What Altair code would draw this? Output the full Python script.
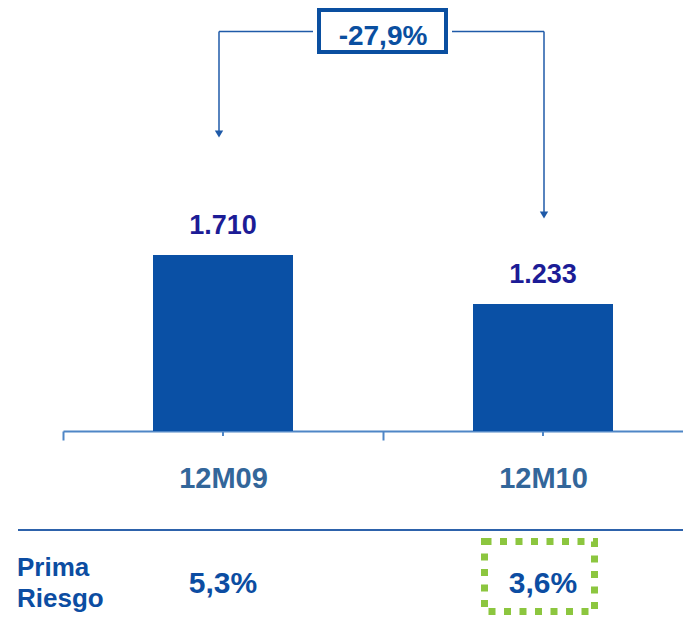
import altair as alt
import pandas as pd

# ---- data ----
periods = ["12M09", "12M10"]
values = [1710, 1233]
value_labels = ["1.710", "1.233"]
prima_labels = ["5,3%", "3,6%"]
change_label = "-27,9%"
row_title = ["Prima", "Riesgo"]
highlight_period = "12M10"

df = pd.DataFrame({"period": periods, "value": values,
                   "label": value_labels, "prima": prima_labels})
one = pd.DataFrame({"k": [0]})

FONT = "Liberation Sans"
BAR = "#0a50a5"
NAVY = "#1c1c96"
AXIS_LBL = "#33669a"
AXIS_LINE = "#4f86c6"
TXT = "#0c4da2"
GREEN = "#8cc63f"
LINE = "#1f5aa8"

xscale = alt.Scale(domain=periods, range=[55, 695], paddingInner=0, paddingOuter=0)
yscale = alt.Scale(domain=[0, 4110], nice=False, zero=True)

x_enc = alt.X("period:N", sort=periods, scale=xscale, title=None,
              axis=alt.Axis(tickBand="extent", tickSize=9, tickWidth=2, tickColor=AXIS_LINE,
                            domainColor=AXIS_LINE, domainWidth=2, labelPadding=47,
                            labelBaseline="alphabetic", labelFont=FONT, labelFontSize=29,
                            labelFontWeight="bold", labelColor=AXIS_LBL, labelAngle=0,
                            grid=False))

base = alt.Chart(df)

bars = base.mark_bar(size=140, color=BAR).encode(
    x=x_enc, y=alt.Y("value:Q", scale=yscale, axis=None))

vlabels = base.mark_text(dy=-21, baseline="alphabetic", font=FONT, fontSize=27,
                         fontWeight="bold", color=NAVY).encode(
    x="period:N", y="value:Q", text="label:N")

cticks = base.mark_rule(color=AXIS_LINE, strokeWidth=2).encode(
    x="period:N", y=alt.value(423), y2=alt.value(428))

prima = base.mark_text(baseline="alphabetic", font=FONT, fontSize=30,
                       fontWeight="bold", color=TXT).encode(
    x="period:N", y=alt.value(585), text="prima:N")

gbox = base.transform_filter(alt.datum.period == highlight_period).mark_rect(
    width=110, xOffset=-3.5, filled=False, stroke=GREEN, strokeWidth=7,
    strokeDash=[7, 8.5]).encode(
    x="period:N", y=alt.value(533.5), y2=alt.value(603.5))

sep = alt.Chart(one).mark_rule(color="#2d62ab", strokeWidth=2).encode(
    x=alt.value(10), x2=alt.value(683), y=alt.value(522))

rtitle = alt.Chart(one).mark_text(align="left", baseline="alphabetic", font=FONT,
                                  fontSize=26, fontWeight="bold", color=TXT,
                                  lineHeight=31).encode(
    x=alt.value(9), y=alt.value(568), text=alt.value(row_title))

def rule(x1, x2, y1, y2):
    return alt.Chart(one).mark_rule(color=LINE, strokeWidth=1.5).encode(
        x=alt.value(x1), x2=alt.value(x2), y=alt.value(y1), y2=alt.value(y2))

def head(x, y):
    return alt.Chart(one).mark_point(shape="triangle-down", filled=True, size=70,
                                     color=LINE, opacity=1).encode(
        x=alt.value(x), y=alt.value(y))

brackets = [
    rule(211, 305, 23.5, 23.5), rule(211, 211, 23.5, 124),
    rule(444, 536, 23.5, 23.5), rule(536, 536, 23.5, 205),
    head(211, 126), head(536, 207),
]

tbox = alt.Chart(one).mark_rect(fill="white", stroke="#0a4fa0", strokeWidth=4).encode(
    x=alt.value(311), x2=alt.value(438), y=alt.value(2), y2=alt.value(44))

tlabel = alt.Chart(one).mark_text(baseline="alphabetic", font=FONT, fontSize=28,
                                  fontWeight="bold", color="#0a4fa0").encode(
    x=alt.value(375), y=alt.value(37), text=alt.value(change_label))

chart = alt.layer(bars, vlabels, cticks, prima, gbox, sep, rtitle, *brackets, tbox, tlabel).properties(
    width=675, height=423,
    padding={"left": 0, "top": 0, "right": 0, "bottom": 184},
    autosize=alt.AutoSizeParams(type="none"),
    background="white",
).configure_view(stroke=None)

chart.save("out.html", embed_options={"renderer": "svg", "actions": False})
